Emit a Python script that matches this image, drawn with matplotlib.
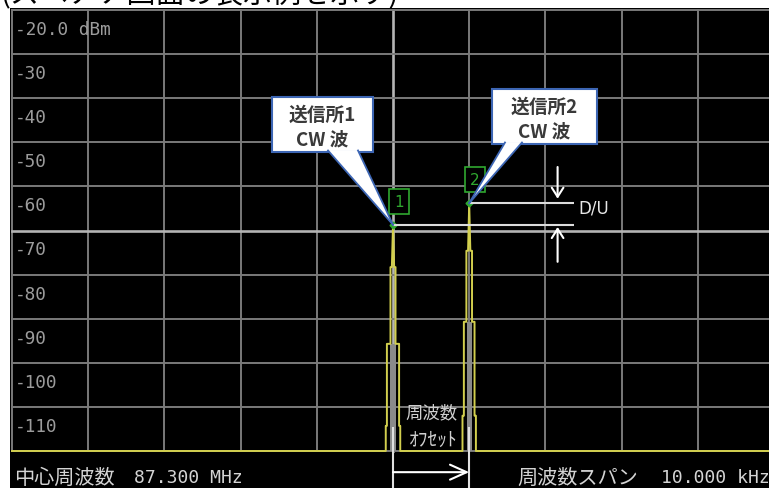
import matplotlib
matplotlib.use('Agg')
import matplotlib.pyplot as plt
from matplotlib.patches import Rectangle, Polygon
from matplotlib.lines import Line2D
import numpy as np

plt.rcParams['font.family'] = ['DejaVu Sans', 'Noto Sans CJK JP']

# ---------------- data ----------------
center_mhz = 87.300
span_khz = 10.000
ref_level_dbm = -20.0
floor_dbm = -120.0
level_ticks = [-20, -30, -40, -50, -60, -70, -80, -90, -100, -110]
level_labels = ['-20.0 dBm', '-30', '-40', '-50', '-60', '-70', '-80', '-90', '-100', '-110']
freq_divs_khz = [-5, -4, -3, -2, -1, 0, 1, 2, 3, 4, 5]

station_names = ['送信所1', '送信所2']
peak_khz = [0.0, 1.0]
peak_dbm = [-68.7, -63.8]

trace_khz = [-5.0,
             -0.095, -0.095, -0.08, -0.08, -0.033, -0.033, -0.015, 0.0, 0.015, 0.033, 0.033, 0.08, 0.08, 0.095, 0.095,
             0.912, 0.912, 0.93, 0.93, 0.963, 0.963, 0.985, 1.0, 1.015, 1.037, 1.037, 1.07, 1.07, 1.088, 1.088,
             5.0]
trace_dbm = [-120.0,
             -120.0, -114.3, -114.3, -95.7, -95.7, -78.3, -78.3, -68.7, -78.3, -78.3, -95.7, -95.7, -114.3, -114.3, -120.0,
             -120.0, -112.0, -112.0, -90.7, -90.7, -74.6, -74.6, -63.8, -74.6, -74.6, -90.7, -90.7, -112.0, -112.0, -120.0,
             -120.0]

inner_halfwidth_khz = [0.04, 0.033]
inner_top_dbm = [-95.7, -90.7]

# ---------------- figure ----------------
W, H = 769, 489
fig = plt.figure(figsize=(W / 100, H / 100), dpi=100, facecolor='white')


def fxy(px, py):
    return (px / W, 1 - py / H)


# cropped heading above the screen (only its lower edge shows)
fig.text(0.0, 1 - 3 / H, '(スペアナ画面の表示例を示す)', fontsize=21,
         family=['Noto Sans CJK JP'], color='black', ha='left', va='baseline', zorder=-2)

# black screen
fig.add_artist(Rectangle((10 / W, 0), 1 - 10 / W, 1 - 9 / H, transform=fig.transFigure,
                         facecolor='black', edgecolor='none', zorder=-1))

ax = fig.add_axes([12 / W, 1 - 452 / H, 762 / W, 441 / H])
ax.set_facecolor('black')
ax.set_xlim(-span_khz / 2, span_khz / 2)
ax.set_ylim(floor_dbm, ref_level_dbm)
for s in ax.spines.values():
    s.set_visible(False)
ax.set_xticks([])
ax.set_yticks([])

grid_c = '#7a7a7a'
for v in freq_divs_khz:
    if v == 0:
        ax.axvline(v, color='#b4b4b4', lw=1.9, zorder=1, clip_on=False)
    else:
        ax.axvline(v, color=grid_c, lw=1.4, zorder=1, clip_on=False)
for h in level_ticks + [floor_dbm]:
    if h == -70:
        ax.axhline(h, color='#b4b4b4', lw=1.9, zorder=1, clip_on=False)
    else:
        ax.axhline(h, color=grid_c, lw=1.4, zorder=1, clip_on=False)

for val, lab in zip(level_ticks, level_labels):
    ax.text(-span_khz / 2 + 0.04, val - 4.3, lab, color='#9c9c9c', fontsize=12.8,
            family=['DejaVu Sans Mono'], ha='left', va='center', zorder=2)

# inner gray fill of lower skirts
for pk, hw, top in zip(peak_khz, inner_halfwidth_khz, inner_top_dbm):
    ax.fill_between([pk - hw, pk + hw], floor_dbm, top, color='#8a8a8a', lw=0, zorder=2)

# trace
ax.plot(trace_khz, trace_dbm, color='#d2cf4e', lw=1.4, zorder=3, clip_on=False)

green = '#2fa82f'
ax.plot(peak_khz, peak_dbm, 'D', color=green, ms=3.5, zorder=4)
for i, (pk, pd) in enumerate(zip(peak_khz, peak_dbm)):
    ax.annotate(str(i + 1), xy=(pk, pd), xytext=(4.3, 17), textcoords='offset points',
                ha='center', va='center', color=green, fontsize=11, family=['DejaVu Sans'],
                bbox=dict(boxstyle='square,pad=0.32', fc='black', ec=green, lw=1.2), zorder=5)

# D/U reference lines
du_x_end = 2.37
ax.hlines(peak_dbm, peak_khz, du_x_end, color='#dcdcdc', lw=1.5, zorder=4)
arrow_x = 2.16
ax.annotate('', xy=(arrow_x, peak_dbm[1] + 1.0), xytext=(arrow_x, peak_dbm[1] + 8.2),
            arrowprops=dict(arrowstyle='->,head_length=0.33,head_width=0.21', color='white',
                            lw=1.5, mutation_scale=20, shrinkA=0, shrinkB=0), zorder=4)
ax.annotate('', xy=(arrow_x, peak_dbm[0] - 0.5), xytext=(arrow_x, peak_dbm[0] - 8.4),
            arrowprops=dict(arrowstyle='->,head_length=0.33,head_width=0.21', color='white',
                            lw=1.5, mutation_scale=20, shrinkA=0, shrinkB=0), zorder=4)
ax.text(du_x_end + 0.06, (peak_dbm[0] + peak_dbm[1]) / 2 + 1.5, 'D/U', color='#e6e6e6',
        fontsize=12, family=['DejaVu Sans'], ha='left', va='center', zorder=4)

# frequency offset arrow
ax.vlines(peak_khz, -114.5, -132.0, color='#e0e0e0', lw=1.5, zorder=4, clip_on=False)
ax.annotate('', xy=(peak_khz[1], -124.8), xytext=(peak_khz[0], -124.8), annotation_clip=False,
            arrowprops=dict(arrowstyle='->,head_length=0.6,head_width=0.27', color='white',
                            lw=1.5, mutation_scale=20, shrinkA=0, shrinkB=0, clip_on=False), zorder=4)
ax.text((peak_khz[0] + peak_khz[1]) / 2, -111.2, '周波数', color='#cfcfcf', fontsize=12.5,
        family=['Noto Sans CJK JP'], ha='center', va='center', zorder=4)
ax.text((peak_khz[0] + peak_khz[1]) / 2 + 0.03, -117.3, 'ｵﾌｾｯﾄ', color='#cfcfcf', fontsize=14,
        family=['Noto Sans CJK JP'], ha='center', va='center', zorder=4)

# bottom annotations
txt_c = '#d4d4d4'
fig.text(*fxy(14, 478), '中心周波数', color=txt_c, fontsize=14.5,
         family=['Noto Sans CJK JP'], ha='left', va='center')
fig.text(*fxy(134, 478), f'{center_mhz:.3f} MHz', color=txt_c, fontsize=13,
         family=['DejaVu Sans Mono'], ha='left', va='center')
fig.text(*fxy(517, 478), '周波数スパン', color=txt_c, fontsize=14.5,
         family=['Noto Sans CJK JP'], ha='left', va='center')
fig.text(*fxy(661, 478), f'{span_khz:.3f} kHz', color=txt_c, fontsize=13,
         family=['DejaVu Sans Mono'], ha='left', va='center')

# callouts
blue = '#3d66b4'
callouts = [
    dict(box=(272, 98, 373, 153), base=(328, 358)),
    dict(box=(492, 90, 597, 145), base=(505, 522)),
]
inv = fig.transFigure.inverted()
for i, c in enumerate(callouts):
    x0, y0, x1, y1 = c['box']
    fig.add_artist(Rectangle(fxy(x0, y1), (x1 - x0) / W, (y1 - y0) / H, transform=fig.transFigure,
                             facecolor='white', edgecolor=blue, lw=1.5, zorder=6))
    tip = inv.transform(ax.transData.transform((peak_khz[i], peak_dbm[i])))
    bl = fxy(c['base'][0], y1 - 1.5)
    br = fxy(c['base'][1], y1 - 1.5)
    fig.add_artist(Polygon([bl, br, tip], closed=True, transform=fig.transFigure,
                           facecolor='white', edgecolor='none', zorder=7))
    for b in (bl, br):
        fig.add_artist(Line2D([b[0], tip[0]], [b[1], tip[1]], transform=fig.transFigure,
                              color=blue, lw=1.3, zorder=8))
    cx = (x0 + x1) / 2
    fig.text(*fxy(cx, y0 + 0.31 * (y1 - y0)), station_names[i], color='#3a3a3a', fontsize=13.5,
             fontweight='bold', family=['Noto Sans CJK JP'], ha='center', va='center', zorder=9)
    fig.text(*fxy(cx, y0 + 0.76 * (y1 - y0)), 'CW 波', color='#3a3a3a', fontsize=13.5,
             fontweight='bold', family=['Noto Sans CJK JP'], ha='center', va='center', zorder=9)

fig.savefig('out.png', dpi=100, facecolor='white')
